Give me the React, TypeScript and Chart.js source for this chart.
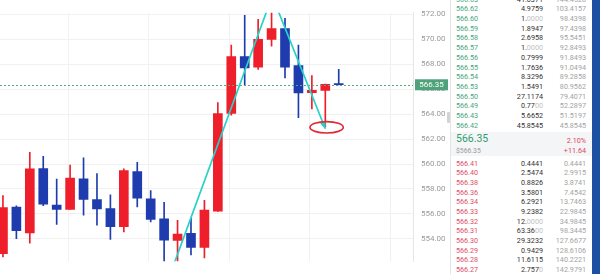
import React, { useEffect, useRef } from 'react';
import { Chart, registerables } from 'chart.js';

Chart.register(...registerables);

// OHLC candles, oldest first (red = rising, blue = falling)
const opens = [552.81, 556.55, 554.48, 559.64, 556.71, 556.37, 558.82, 557.15, 556.42, 554.97, 559.4, 557.2, 555.6, 553.88, 554.44, 553.32, 556.23, 564.05, 568.61, 567.76, 569.99, 570.86, 567.88, 565.72, 565.89, 566.44];
const highs = [557.46, 556.64, 560.93, 560.62, 558.8, 559.91, 560.49, 559.23, 557.53, 559.62, 560.13, 557.88, 556.93, 555.48, 555.64, 557.08, 564.93, 569.54, 571.92, 571.59, 572.4, 571.68, 569.53, 567.08, 566.4, 567.59];
const lows = [552.55, 554.02, 553.66, 556.66, 555.16, 556.37, 555.89, 555.09, 553.95, 554.55, 556.57, 555.35, 551.8, 551.9, 552.72, 552.48, 556.2, 563.91, 566.31, 567.59, 569.45, 566.91, 563.71, 564.42, 563.0, 566.33];
const closes = [556.5, 554.66, 559.62, 556.79, 556.37, 558.87, 557.17, 556.4, 554.97, 559.47, 557.27, 555.55, 553.9, 554.39, 553.32, 556.3, 564.05, 568.61, 567.71, 570.0, 570.86, 567.76, 565.7, 565.91, 566.38, 566.35];

const yTicks = [554, 556, 558, 560, 562, 564, 566, 568, 570, 572];
const gridX = [1.85, 7.85, 13.85, 19.85, 25.85];
const lastPrice = 566.35;

// hand-drawn markup: rising stroke, falling arrow, circled target
const trendUp = [{ x: 12.45, y: 551.15 }, { x: 20.05, y: 573.46 }];
const trendDown = [{ x: 20.05, y: 573.46 }, { x: 23.98, y: 562.89 }];
const target = { x: 24.1, y: 562.94, rx: 1.24, ry: 0.458 };

// order book
const askPrices = ['566.63', '566.62', '566.60', '566.59', '566.58', '566.57', '566.56', '566.55', '566.54', '566.53', '566.50', '566.49', '566.43', '566.42'];
const askAmounts = ['41.0371', '4.9759', '1.0000', '1.8947', '2.6958', '1.0000', '0.7999', '1.7636', '8.3296', '1.5491', '27.1174', '0.7700', '5.6652', '45.8545'];
const askTotals = ['144.4528', '103.4157', '98.4398', '97.4398', '95.5451', '92.8493', '91.8493', '91.0494', '89.2858', '80.9562', '79.4071', '52.2897', '51.5197', '45.8545'];
const bidPrices = ['566.41', '566.40', '566.38', '566.36', '566.34', '566.33', '566.32', '566.31', '566.30', '566.29', '566.28', '566.27'];
const bidAmounts = ['0.4441', '2.5474', '0.8826', '3.5801', '6.2921', '9.2382', '12.0000', '63.3600', '29.3232', '0.9429', '11.6115', '2.7570'];
const bidTotals = ['0.4441', '2.9915', '3.8741', '7.4542', '13.7463', '22.9845', '34.9845', '98.3445', '127.6677', '128.6106', '140.2221', '142.9791'];
const tickerPrice = '566.35';
const tickerUsd = '$566.35';
const tickerPct = '2.10%';
const tickerChange = '+11.64';

const UP = '#ee1f2a';
const DOWN = '#1e3cae';
const FONT = 'Roboto, "Noto Sans", sans-serif';

const overlayPlugin = {
  id: 'overlay',
  afterDatasetsDraw(chart: any) {
    const { ctx, chartArea: a, scales } = chart;
    const xs = scales.x;
    const ys = scales.y;
    ctx.save();
    ctx.beginPath();
    ctx.rect(a.left, a.top, a.right - a.left, a.bottom - a.top);
    ctx.clip();

    // last price dotted line
    const py = Math.round(ys.getPixelForValue(lastPrice)) + 0.5;
    ctx.strokeStyle = '#55a985';
    ctx.lineWidth = 1;
    ctx.setLineDash([2, 2]);
    ctx.beginPath();
    ctx.moveTo(a.left, py);
    ctx.lineTo(a.right, py);
    ctx.stroke();
    ctx.setLineDash([]);

    // trend strokes
    ctx.strokeStyle = '#26d2c8';
    ctx.lineWidth = 1.7;
    ctx.lineCap = 'round';
    for (const seg of [trendUp, trendDown]) {
      ctx.beginPath();
      ctx.moveTo(xs.getPixelForValue(seg[0].x), ys.getPixelForValue(seg[0].y));
      ctx.lineTo(xs.getPixelForValue(seg[1].x), ys.getPixelForValue(seg[1].y));
      ctx.stroke();
    }
    // arrow head
    const x0 = xs.getPixelForValue(trendDown[0].x);
    const y0 = ys.getPixelForValue(trendDown[0].y);
    const x1 = xs.getPixelForValue(trendDown[1].x);
    const y1 = ys.getPixelForValue(trendDown[1].y);
    const ang = Math.atan2(y1 - y0, x1 - x0);
    ctx.fillStyle = '#26d2c8';
    ctx.beginPath();
    ctx.moveTo(x1 + Math.cos(ang) * 1.5, y1 + Math.sin(ang) * 1.5);
    ctx.lineTo(x1 - Math.cos(ang) * 6 + Math.sin(ang) * 3, y1 - Math.sin(ang) * 6 - Math.cos(ang) * 3);
    ctx.lineTo(x1 - Math.cos(ang) * 6 - Math.sin(ang) * 3, y1 - Math.sin(ang) * 6 + Math.cos(ang) * 3);
    ctx.closePath();
    ctx.fill();

    // circled target
    const cx = xs.getPixelForValue(target.x);
    const cy = ys.getPixelForValue(target.y);
    const rx = Math.abs(xs.getPixelForValue(target.x + target.rx) - cx);
    const ry = Math.abs(ys.getPixelForValue(target.y + target.ry) - cy);
    ctx.strokeStyle = '#df2a33';
    ctx.lineWidth = 1.6;
    ctx.beginPath();
    ctx.ellipse(cx, cy, rx, ry, 0, 0, Math.PI * 2);
    ctx.stroke();
    ctx.restore();
  },
  afterDraw(chart: any) {
    const { ctx, chartArea: a, scales } = chart;
    const py = scales.y.getPixelForValue(lastPrice);
    ctx.save();
    ctx.fillStyle = '#4fa27a';
    ctx.fillRect(a.right + 2, py - 5.5, 33, 11);
    ctx.fillStyle = '#ffffff';
    ctx.font = `8px ${FONT}`;
    ctx.textAlign = 'center';
    ctx.textBaseline = 'middle';
    ctx.fillText(lastPrice.toFixed(2), a.right + 18.5, py + 0.5);
    ctx.restore();
  },
};

function Amount({ s }: { s: string }) {
  const m = s.match(/^(\d+\.\d*?)(0*)$/);
  const head = m ? m[1] : s;
  const tail = m ? m[2] : '';
  return (
    <>
      {head}
      <span style={{ color: '#c2c2c2' }}>{tail}</span>
    </>
  );
}

function BookRow({ top, price, amount, total, color }: { top: number; price: string; amount: string; total: string; color: string }) {
  return (
    <div style={{ position: 'absolute', left: 0, right: 0, top, height: 10, lineHeight: '10px', fontSize: 7.2 }}>
      <span style={{ position: 'absolute', left: 5, color }}>{price}</span>
      <span style={{ position: 'absolute', right: 49, color: '#333' }}>
        <Amount s={amount} />
      </span>
      <span style={{ position: 'absolute', right: 6, color: '#a3a3a3' }}>{total}</span>
    </div>
  );
}

function OrderBook() {
  return (
    <div
      style={{
        position: 'absolute',
        left: 450,
        top: 0,
        width: 142,
        height: 274,
        background: '#fff',
        borderLeft: '1px solid #e4e4e4',
        boxSizing: 'border-box',
        fontFamily: FONT,
        overflow: 'hidden',
      }}
    >
      {askPrices.map((p, i) => (
        <BookRow key={'a' + i} top={-5.4 + i * 9.7} price={p} amount={askAmounts[i]} total={askTotals[i]} color="#49a77c" />
      ))}
      <div style={{ position: 'absolute', left: 0, right: 0, top: 131.5, height: 24, background: '#f4f5f6' }}>
        <span style={{ position: 'absolute', left: 5, top: 1.5, fontSize: 10.5, lineHeight: '12px', color: '#2f9d70' }}>{tickerPrice}</span>
        <span style={{ position: 'absolute', left: 5, top: 15, fontSize: 6.8, lineHeight: '8px', color: '#9a9a9a' }}>{tickerUsd}</span>
        <span style={{ position: 'absolute', right: 6, top: 4, fontSize: 7.2, lineHeight: '10px', color: '#e0465c' }}>{tickerPct}</span>
        <span style={{ position: 'absolute', right: 6, top: 15, fontSize: 7.2, lineHeight: '8px', color: '#e0465c' }}>{tickerChange}</span>
      </div>
      {bidPrices.map((p, i) => (
        <BookRow key={'b' + i} top={158.7 + i * 9.66} price={p} amount={bidAmounts[i]} total={bidTotals[i]} color="#dc5068" />
      ))}
    </div>
  );
}

export default function App() {
  const canvasRef = useRef<HTMLCanvasElement | null>(null);

  useEffect(() => {
    const canvas = canvasRef.current;
    if (!canvas) return;
    const idx = opens.map((_, i) => i);
    const colors = idx.map((i) => (closes[i] >= opens[i] ? UP : DOWN));
    const chart = new Chart(canvas, {
      type: 'bar',
      data: {
        datasets: [
          {
            label: 'body',
            data: idx.map((i) => ({ x: i, y: [opens[i], closes[i]] })) as any,
            backgroundColor: colors,
            barThickness: 9,
            grouped: false,
            minBarLength: 1,
            order: 0,
          } as any,
          {
            label: 'wick',
            data: idx.map((i) => ({ x: i, y: [lows[i], highs[i]] })) as any,
            backgroundColor: colors,
            barThickness: 1,
            grouped: false,
            order: 1,
          } as any,
        ],
      },
      options: {
        responsive: false,
        animation: false,
        layout: { padding: 0 },
        plugins: { legend: { display: false }, tooltip: { enabled: false } },
        scales: {
          x: {
            type: 'linear',
            min: -0.22,
            max: 30.53,
            offset: false,
            afterBuildTicks: (s: any) => {
              s.ticks = gridX.map((v) => ({ value: v }));
            },
            afterFit: (s: any) => {
              s.height = 0;
            },
            grid: { color: '#f1f1f1', drawTicks: false },
            border: { display: false },
            ticks: { display: false },
          },
          y: {
            position: 'right',
            min: 552.21,
            max: 572.12,
            afterBuildTicks: (s: any) => {
              s.ticks = yTicks.map((v) => ({ value: v }));
            },
            afterFit: (s: any) => {
              s.width = 37;
            },
            grid: { color: '#f1f1f1', drawTicks: false },
            border: { color: '#e6e6e6' },
            ticks: {
              padding: 8,
              autoSkip: false,
              color: '#9a9a9a',
              font: { family: FONT, size: 8 },
              callback: (v: any) => Number(v).toFixed(2),
            },
          },
        },
      } as any,
      plugins: [overlayPlugin],
    });
    return () => chart.destroy();
  }, []);

  return (
    <div style={{ position: 'absolute', left: 0, top: 0, width: 600, height: 274, background: '#fff', overflow: 'hidden' }}>
      <canvas ref={canvasRef} width={450} height={274} style={{ position: 'absolute', left: 0, top: 0, width: 450, height: 274 }} />
      <div style={{ position: 'absolute', left: 447, top: 112, width: 3, height: 11, background: '#d3d3d3', borderRadius: 1 }} />
      <OrderBook />
      <div style={{ position: 'absolute', left: 592, top: 0, width: 8, height: 274, background: '#1d4fa3' }} />
    </div>
  );
}
